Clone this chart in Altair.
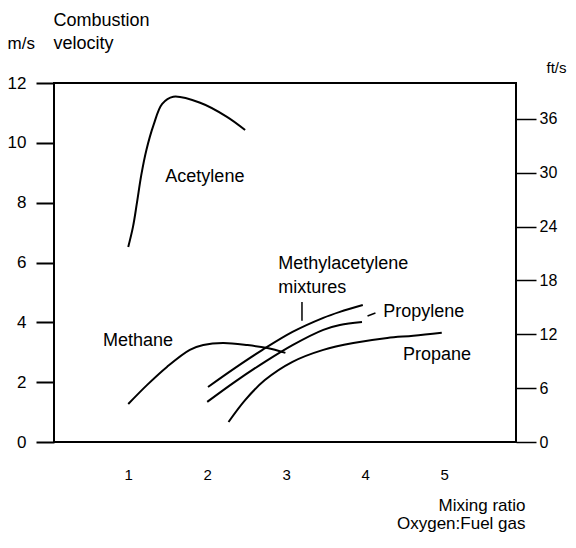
import altair as alt
import pandas as pd

# ---- data (x = mixing ratio oxygen:fuel gas, y = m/s) ----
ace_x = [1.00, 1.06, 1.11, 1.165, 1.23, 1.32, 1.43, 1.57, 1.91, 2.25, 2.48]
ace_y = [6.52, 7.19, 7.99, 8.92, 9.76, 10.59, 11.30, 11.54, 11.34, 10.87, 10.43]

meth_x = [1.00, 1.24, 1.49, 1.78, 1.95, 2.20, 2.51, 2.76, 2.99]
meth_y = [1.27, 1.91, 2.51, 3.08, 3.24, 3.31, 3.24, 3.14, 2.98]

mapp_x = [2.01, 2.35, 2.70, 3.08, 3.47, 3.68, 3.97]
mapp_y = [1.84, 2.47, 3.08, 3.68, 4.15, 4.35, 4.58]

prpy_x = [2.00, 2.35, 2.73, 3.08, 3.47, 3.68, 3.96]
prpy_y = [1.34, 2.01, 2.68, 3.24, 3.75, 3.91, 4.01]

prpa_x = [2.27, 2.48, 2.73, 3.08, 3.47, 3.85, 4.28, 4.61, 4.97]
prpa_y = [0.67, 1.40, 2.07, 2.68, 3.08, 3.31, 3.48, 3.55, 3.65]

label_text = ["Acetylene", "Methane", "Methylacetylene", "mixtures", "Propylene", "Propane"]
label_x = [1.47, 0.68, 2.90, 2.90, 4.23, 4.48]
label_y = [8.70, 3.21, 5.79, 4.98, 4.18, 2.74]

ptr_x = [3.20, 4.03]
ptr_y = [4.68, 4.21]
ptr_x2 = [3.20, 4.13]
ptr_y2 = [4.05, 4.31]

x_ticks = [1, 2, 3, 4, 5]
ms_ticks = [0, 2, 4, 6, 8, 10, 12]
fts_ticks = [0, 6, 12, 18, 24, 30, 36]

X_DOM = [0.06, 5.91]
MS_DOM = [0, 12]
FT_DOM = [0, 40]
FONT = "Liberation Sans"

rows = []
for name, xs_, ys_ in [("Acetylene", ace_x, ace_y), ("Methane", meth_x, meth_y),
                       ("Methylacetylene", mapp_x, mapp_y), ("Propylene", prpy_x, prpy_y),
                       ("Propane", prpa_x, prpa_y)]:
    for a, b in zip(xs_, ys_):
        rows.append({"gas": name, "x": a, "y": b})
curves = pd.DataFrame(rows)
labels = pd.DataFrame({"t": label_text, "x": label_x, "y": label_y})
ptrs = pd.DataFrame({"x": ptr_x, "y": ptr_y, "x2": ptr_x2, "y2": ptr_y2})
fts = pd.DataFrame({"ft": fts_ticks})

xs = alt.Scale(domain=X_DOM, nice=False, zero=False)
ys = alt.Scale(domain=MS_DOM, nice=False, zero=False)

lines = alt.Chart(curves).mark_line(color="black", strokeWidth=2, interpolate="catmull-rom").encode(
    x=alt.X("x:Q", scale=xs, axis=alt.Axis(
        orient="bottom", values=x_ticks, ticks=False, domain=False, labelPadding=25,
        labelFontSize=15, title=["Mixing ratio", "Oxygen:Fuel gas"],
        titleX=471, titleY=68, titleAlign="right", titleBaseline="alphabetic",
        titleLineHeight=18, titleFontSize=17, titleAnchor="end")),
    y=alt.Y("y:Q", scale=ys, axis=alt.Axis(
        orient="left", values=ms_ticks, tickSize=18, tickWidth=2, domain=False,
        labelPadding=10, labelFontSize=17, title="m/s", titleAngle=0,
        titleX=-47, titleY=-35, titleAlign="left", titleBaseline="alphabetic",
        titleFontSize=17)),
    detail="gas:N",
)

rules = alt.Chart(ptrs).mark_rule(color="black", strokeWidth=1.5).encode(
    x=alt.X("x:Q", scale=xs, axis=None),
    y=alt.Y("y:Q", scale=ys, axis=None),
    x2="x2:Q", y2="y2:Q",
)

texts = alt.Chart(labels).mark_text(align="left", baseline="alphabetic", fontSize=18,
                                     font=FONT, color="black").encode(
    x=alt.X("x:Q", scale=xs, axis=None),
    y=alt.Y("y:Q", scale=ys, axis=None),
    text="t:N",
)

ft_axis = alt.Chart(fts).mark_point(opacity=0).encode(
    x=alt.X("ft:Q", scale=alt.Scale(domain=FT_DOM, nice=False), axis=alt.Axis(
        orient="top", labels=False, ticks=False, domain=False,
        title=["Combustion", "velocity"], titleX=-1, titleY=-58, titleAlign="left",
        titleBaseline="alphabetic", titleLineHeight=23, titleFontSize=18, titleAngle=0)),
    y=alt.Y("ft:Q", scale=alt.Scale(domain=FT_DOM, nice=False), axis=alt.Axis(
        orient="right", values=fts_ticks, tickSize=20, tickWidth=1.5, domain=False,
        labelPadding=3, labelFontSize=16, title="ft/s", titleAngle=0,
        titleX=30, titleY=-11, titleAlign="left", titleBaseline="alphabetic",
        titleFontSize=15)),
)

chart = alt.layer(lines, rules, texts, ft_axis).resolve_scale(
    x="independent", y="independent"
).properties(
    width=462, height=359,
    padding={"left": 46, "top": 75, "right": 52, "bottom": 92},
    autosize=alt.AutoSizeParams(type="none"),
).configure_view(stroke="black", strokeWidth=2).configure_axis(
    grid=False, labelFont=FONT, titleFont=FONT, labelColor="black", titleColor="black",
    tickColor="black", titleFontWeight="normal",
)

chart.save("out.html", embed_options={"renderer": "svg", "actions": False})
